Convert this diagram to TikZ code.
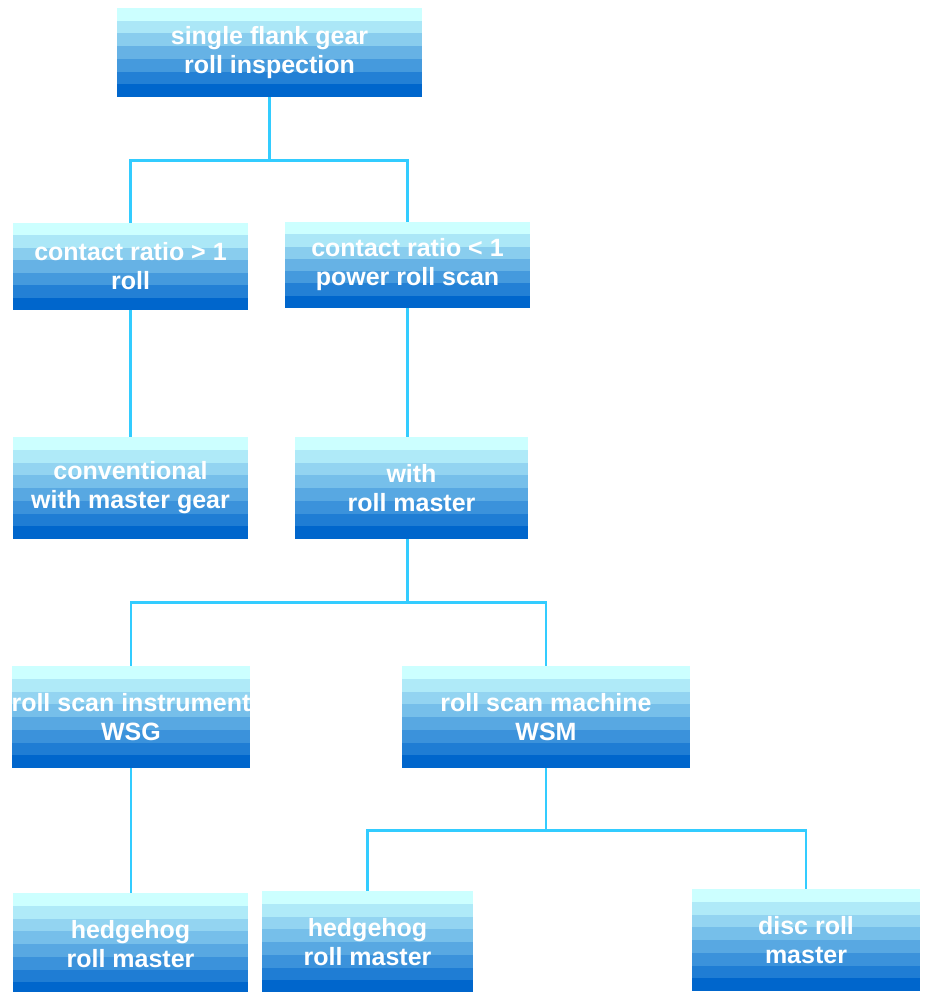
\documentclass[tikz,border=0pt]{standalone}
\usepackage{fontspec}
\setmainfont{Liberation Sans}
\usetikzlibrary{calc}
\definecolor{bandtop}{HTML}{CCFFFF}
\definecolor{bandbot}{HTML}{0066CC}
\definecolor{linkcol}{HTML}{33CCFF}
\tikzset{
  bands/.store in=\nbands, bands=8,
  box/.style={minimum width=#1, minimum height=102pt, inner sep=0pt, align=center,
    text=white, font=\fontsize{25}{29}\selectfont\bfseries,
    path picture={
      \foreach \i in {1,...,\nbands}{
        \pgfmathtruncatemacro\p{100*(\i-1)/(\nbands-1)}
        \pgfmathsetmacro\ta{(\i-1)/\nbands}
        \pgfmathsetmacro\tb{\i/\nbands}
        \fill[bandbot!\p!bandtop]
          ($(path picture bounding box.north west)!\ta!(path picture bounding box.south west)$)
          rectangle
          ($(path picture bounding box.north east)!\tb!(path picture bounding box.south east)$);
      }}},
  link/.style={draw=linkcol, line width=2.8pt}
}
\begin{document}
\begin{tikzpicture}[x=1pt,y=-1pt]
\useasboundingbox (0,0) rectangle (926,992);
% boxes
\node[box=305pt, minimum height=89pt, bands=7] (top) at (269.5,52.5) {single flank gear\\roll inspection};
\node[box=235pt, minimum height=87pt, bands=7] (cr1) at (130.5,266.5) {contact ratio > 1\\roll};
\node[box=245pt, minimum height=86pt, bands=7] (cr2) at (407.5,265) {contact ratio < 1\\power roll scan};
\node[box=235pt] (conv) at (130.5,488) {conventional\\with master gear};
\node[box=233pt] (master) at (411.5,488) {with\\roll master};
\node[box=236pt] (wsg) at (131,717) {roll scan instrument\\WSG};
\node[box=288pt] (wsm) at (546,717) {roll scan machine\\WSM};
\node[box=235pt] (hh1) at (130.5,944) {hedgehog\\roll master};
\node[box=211pt] (hh2) at (367.5,942) {hedgehog\\roll master};
\node[box=228pt] (disc) at (806,940) {disc roll\\master};
% connectors
\draw[link] (top.south) -- ++(0,63) coordinate (fork1) -| (cr1.north);
\draw[link] (fork1) -| (cr2.north);
\draw[link] (cr1.south) -- (conv.north);
\draw[link] (cr2.south) -- (cr2.south |- master.north);
\draw[link] ([xshift=-4pt]master.south) -- ++(0,63) coordinate (fork2) -| (wsg.north);
\draw[link] (fork2) -| (wsm.north);
\draw[link] (wsg.south) -- (wsg.south |- hh1.north);
\draw[link] (wsm.south) -- ++(0,62) coordinate (fork3) -| (hh2.north);
\draw[link] (fork3) -| (disc.north);
\end{tikzpicture}
\end{document}
